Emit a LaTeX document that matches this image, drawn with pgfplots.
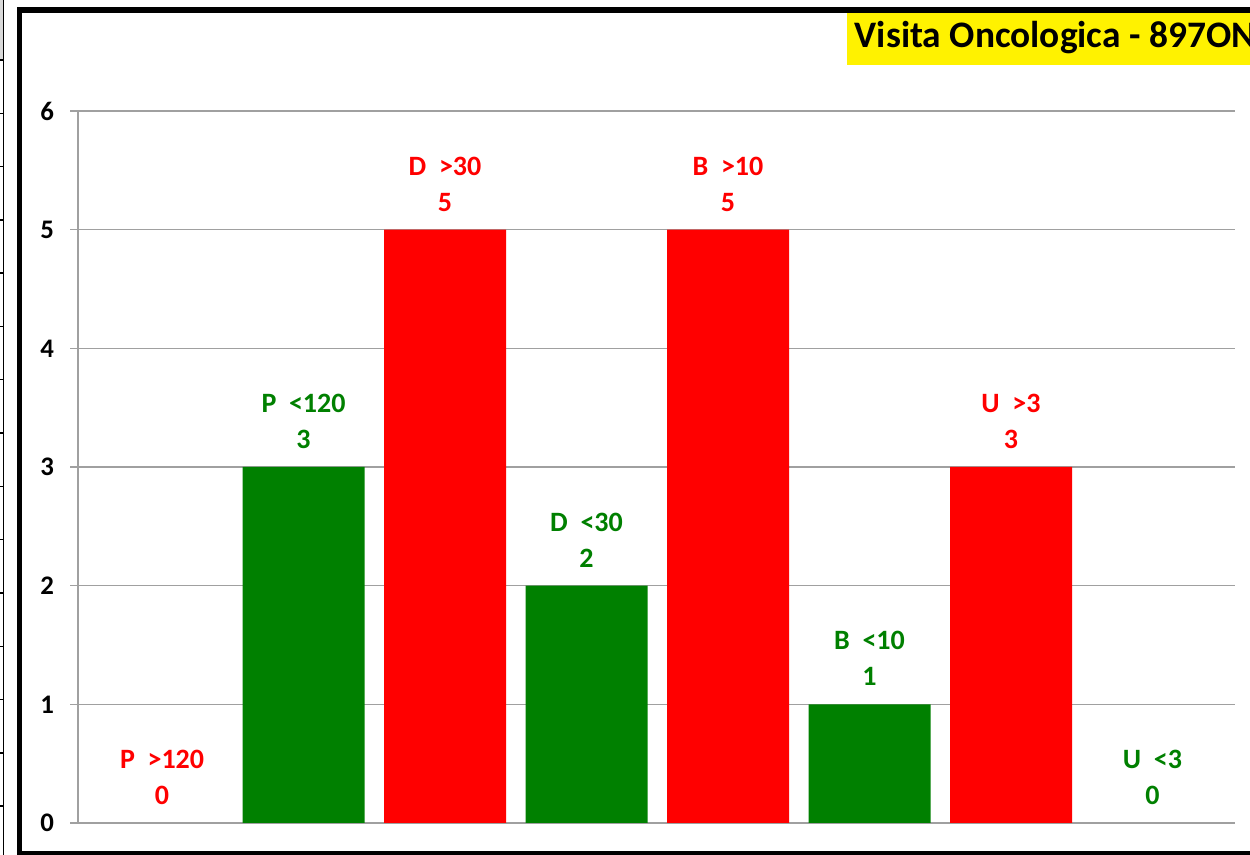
\documentclass[border=0pt]{standalone}
\usepackage{fontspec}
\setmainfont{Carlito}
\usepackage{pgfplots}
\pgfplotsset{compat=1.18}
\usepackage{pgfplotstable}
\definecolor{xred}{HTML}{FF0000}
\definecolor{xgreen}{HTML}{008000}
\definecolor{gridgray}{HTML}{A0A0A0}
\definecolor{stripgray}{HTML}{D9D9D9}

% bars with a value above zero
\pgfplotstableread{
x y lab
2 5 {D\ \ >30}
4 5 {B\ \ >10}
6 3 {U\ \ >3}
}\redtab
\pgfplotstableread{
x y lab
1 3 {P\ \ <120}
3 2 {D\ \ <30}
5 1 {B\ \ <10}
}\greentab
% categories whose value is zero (label only)
\pgfplotstableread{
x y lab
0 0 {P\ \ >120}
}\redzero
\pgfplotstableread{
x y lab
7 0 {U\ \ <3}
}\greenzero

\begin{document}
\begin{tikzpicture}
\useasboundingbox (0pt,0pt) rectangle (625pt,427.5pt);
\clip (0pt,0pt) rectangle (625pt,427.5pt);
\fill[white] (0pt,0pt) rectangle (625pt,427.5pt);
% fragment of neighbouring chart at the left edge
\fill[stripgray] (0pt,397.5pt) rectangle (1.6pt,427.5pt);
\draw[black, line width=0.7pt] (1.6pt,0pt) -- (1.6pt,427.5pt);
\foreach \k in {0,...,14} {
  \draw[black, line width=0.7pt] (0pt,{(855-60-53.3*\k)/2*1pt}) -- (1.6pt,{(855-60-53.3*\k)/2*1pt});
}
% title box
\fill[yellow] (423.5pt,395pt) rectangle (700pt,421pt);
\node[anchor=base west, inner sep=0pt, font=\bfseries\fontsize{18.7}{22}\selectfont] at (427.2pt,403.6pt) {Visita Oncologica - 897ON};
% frame
\draw[black, line width=2.8pt] (700pt,422.5pt) -- (9.75pt,422.5pt) -- (9.75pt,0.6pt) -- (700pt,0.6pt);

\begin{axis}[
  at={(39pt,16pt)}, anchor=south west,
  scale only axis, width=578.5pt, height=356pt,
  xmin=-0.594, xmax=7.583, ymin=0, ymax=6,
  ytick={0,1,2,3,4,5,6}, xtick=\empty,
  axis lines*=left,
  axis line style={gridgray, line width=0.8pt},
  ymajorgrids, grid style={gridgray, line width=0.8pt},
  major tick length=4pt, tick align=outside,
  tick style={gridgray, line width=0.8pt},
  yticklabel style={font=\bfseries\fontsize{13.4}{16}\selectfont, /pgf/number format/assume math mode=true, xshift=-4.5pt},
  ybar, bar width=61pt,
  every node near coord/.append style={align=center, font=\bfseries\fontsize{14}{18}\selectfont, anchor=south, inner sep=0pt, yshift=9pt},
  point meta=explicit symbolic,
  visualization depends on={y \as \yv},
  nodes near coords={\pgfplotspointmeta\\\pgfmathprintnumber[assume math mode=true]{\yv}},
]
\addplot[fill=xred, draw=none, bar shift=0pt,
  every node near coord/.append style={text=xred}] table[x=x,y=y,meta=lab]{\redtab};
\addplot[fill=xgreen, draw=none, bar shift=0pt,
  every node near coord/.append style={text=xgreen}] table[x=x,y=y,meta=lab]{\greentab};
\addplot[fill=none, draw=none, bar shift=0pt,
  every node near coord/.append style={text=xred}] table[x=x,y=y,meta=lab]{\redzero};
\addplot[fill=none, draw=none, bar shift=0pt,
  every node near coord/.append style={text=xgreen}] table[x=x,y=y,meta=lab]{\greenzero};
\end{axis}
\end{tikzpicture}
\end{document}
